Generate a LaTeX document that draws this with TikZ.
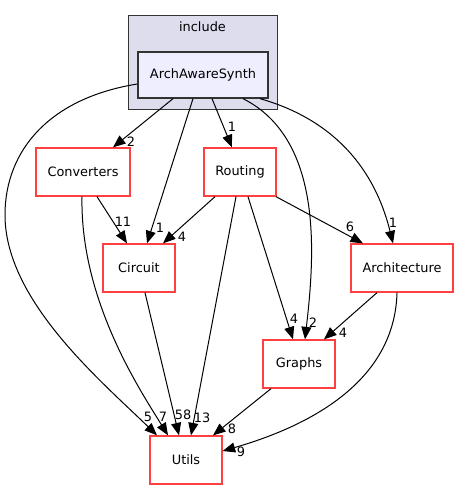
\documentclass[tikz,border=0pt]{standalone}
\usepackage{fontspec}
\setmainfont{DejaVu Sans}
\usetikzlibrary{arrows.meta}
\definecolor{dirred}{HTML}{FF4040}
\definecolor{clusterfill}{HTML}{DDDDEE}
\definecolor{focusfill}{HTML}{EEEEFF}
\definecolor{darkframe}{HTML}{333333}
\tikzset{
  dirbox/.style={draw=dirred, line width=1.3pt, fill=white, inner sep=0pt,
    minimum height=48pt, font=\fontsize{12.9}{15}\selectfont},
  focusbox/.style={draw=darkframe, line width=1.3pt, fill=focusfill, inner sep=0pt,
    minimum width=130pt, minimum height=46pt, font=\fontsize{12.9}{15}\selectfont},
  clusterbox/.style={draw=darkframe, line width=1pt, fill=clusterfill,
    minimum width=149pt, minimum height=94pt},
  lbl/.style={inner sep=0pt, font=\fontsize{12.9}{15}\selectfont},
  dep/.style={-{Triangle[length=12.5pt,width=10pt]}, line width=1pt}
}

\begin{document}
\begin{tikzpicture}[x=1pt, y=-1pt]
    \useasboundingbox (0,0) rectangle (458,489);
    \node[clusterbox] (include) at (202.5,63) {};
    \node[lbl] (includetitle) at (202.5,27) {include};
    \node[focusbox] (aas) at (203,75) {ArchAwareSynth};
    \node[dirbox, minimum width=94pt] (conv) at (83,172) {Converters};
    \node[dirbox, minimum width=72pt] (rout) at (240,172) {Routing};
    \node[dirbox, minimum width=72pt] (circ) at (139,268) {Circuit};
    \node[dirbox, minimum width=102pt] (arch) at (402,268) {Architecture};
    \node[dirbox, minimum width=72pt] (graphs) at (299,364) {Graphs};
    \node[dirbox, minimum width=72pt] (utils) at (186,460) {Utils};
    % straight dependencies
    \foreach \a/\sa/\b/\sb/\t/\lx/\ly in {
        aas/-30/conv/30/2/131/142,
        aas/-10/circ/8/1/160/228,
        aas/9/rout/-8/1/232/127,
        conv/14/circ/-12/11/123/222,
        rout/-25/circ/24/4/182/237,
        rout/-4/utils/5/13/202/418,
        rout/8/graphs/-6/4/294/319,
        rout/36/arch/-39/6/350/227,
        circ/6/utils/-7/58/183/415,
        arch/-25/graphs/25/4/343/333,
        graphs/-28/utils/27/8/232/429}
      \draw[dep] ([xshift=\sa pt]\a.south) -- ([xshift=\sb pt]\b.north)
        node[lbl] (l-\a-\b) at (\lx,\ly) {\t};
    % curved dependencies
    \draw[dep] ([yshift=-9pt]aas.west) .. controls (50,98) and (5,150) .. (5,215)
      .. controls (5,300) and (100,380) .. ([xshift=-29pt]utils.north)
      node[lbl] (l-aas-utils) at (148,417) {5};
    \draw[dep] ([xshift=40pt]aas.south) .. controls (325,140) and (314,260) .. ([xshift=6pt]graphs.north)
      node[lbl] (l-aas-graphs) at (313,323) {2};
    \draw[dep] ([xshift=57pt]aas.south) .. controls (335,120) and (375,170) .. ([xshift=-9pt]arch.north)
      node[lbl] (l-aas-arch) at (393,223) {1};
    \draw[dep] ([xshift=-1pt]conv.south) .. controls (80,300) and (140,390) .. ([xshift=-18pt]utils.north)
      node[lbl] (l-conv-utils) at (163,417) {7};
    \draw[dep] ([xshift=-5pt]arch.south) .. controls (395,370) and (330,420) .. ([yshift=9pt]utils.east)
      node[lbl] (l-arch-utils) at (241,452) {9};
\end{tikzpicture}
\end{document}
